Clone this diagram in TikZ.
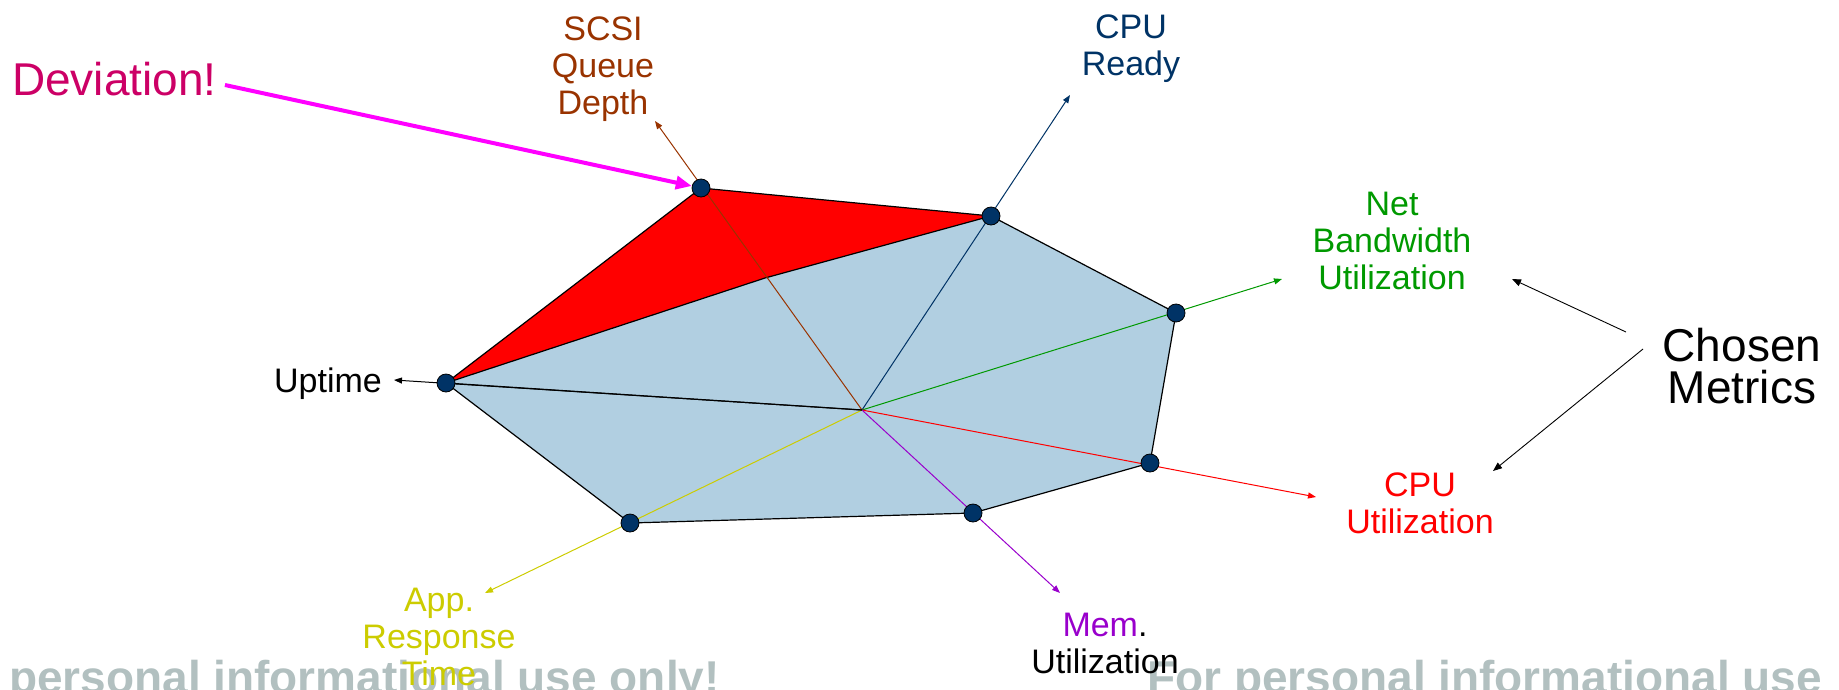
\documentclass[tikz,border=0pt]{standalone}
\usepackage{fontspec}
\setmainfont{Liberation Sans}
\usetikzlibrary{arrows.meta}
\definecolor{polyblue}{RGB}{177,207,225}
\definecolor{dotblue}{RGB}{0,51,102}
\definecolor{scsibrown}{RGB}{153,51,0}
\definecolor{readyblue}{RGB}{0,51,102}
\definecolor{netgreen}{RGB}{0,153,0}
\definecolor{memviolet}{RGB}{153,0,204}
\definecolor{appyellow}{RGB}{204,204,0}
\definecolor{devpink}{RGB}{204,0,102}
\definecolor{devmagenta}{RGB}{255,0,255}
\definecolor{wmgray}{RGB}{178,192,192}
\begin{document}
\begin{tikzpicture}[x=1pt,y=-1pt,
  axisline/.style={line width=1pt,-{Triangle[length=8pt,width=6pt]}},
  polyedge/.style={draw=black,line width=1.2pt,line join=round},
  vertex/.style={circle,draw=black,line width=0.8pt,fill=dotblue,minimum size=18pt,inner sep=0pt},
  lbl/.style={font=\fontsize{34}{37}\selectfont,align=center,inner sep=0pt},
  bigtext/.style={font=\fontsize{46}{42}\selectfont,align=center,inner sep=0pt},
  wmark/.style={font=\bfseries\fontsize{46}{46}\selectfont,text=wmgray,inner sep=0pt},
  pointer/.style={line width=0.9pt,-{Triangle[length=9pt,width=7pt]}},
  devarrow/.style={draw=devmagenta,fill=devmagenta,line width=4pt,-{Triangle[length=16pt,width=13pt]}}
]
\useasboundingbox (0,0) rectangle (1839,689);
\clip (0,0) rectangle (1839,689);

% background notice
\node[wmark,anchor=base west] (wmL) at (9,693) {personal informational use only!};
\node[wmark,anchor=base west] (wmR) at (1147,693) {For personal informational use};

% centre of the chart and metric values
\coordinate (C) at (862,410);
\coordinate (pU) at (446,383);
\coordinate (pS) at (701,188);
\coordinate (pSn) at (765,278);
\coordinate (pR) at (991,216);
\coordinate (pN) at (1176,313);
\coordinate (pCu) at (1150,463);
\coordinate (pM) at (973,513);
\coordinate (pA) at (630,523);

% axis end points
\coordinate (tU) at (394,380);
\coordinate (tS) at (655,121);
\coordinate (tR) at (1070,95);
\coordinate (tN) at (1282,279);
\coordinate (tCu) at (1316,497);
\coordinate (tM) at (1060,593);
\coordinate (tA) at (485,593);

% baseline profile and the deviating part
\fill[polyblue] (pU) -- (pSn) -- (pR) -- (pN) -- (pCu) -- (pM) -- (pA) -- cycle;
\fill[red] (pU) -- (pS) -- (pR) -- (pSn) -- cycle;
\draw[polyedge] (pU) -- (pS) -- (pR) -- (pN) -- (pCu) -- (pM) -- (pA) -- cycle;
\draw[polyedge] (pU) -- (pSn) -- (pR);

% axes
\draw[axisline,scsibrown] (C) -- (tS);
\draw[axisline,readyblue] (C) -- (tR);
\draw[axisline,netgreen] (C) -- (tN);
\draw[axisline,red] (C) -- (tCu);
\draw[axisline,memviolet] (C) -- (tM);
\draw[axisline,appyellow] (C) -- (tA);
\draw[axisline,black] (C) -- (tU);
\draw[polyedge] (C) -- (pU);

% value markers
\node[vertex] (vU) at (pU) {};
\node[vertex] (vS) at (pS) {};
\node[vertex] (vR) at (pR) {};
\node[vertex] (vN) at (pN) {};
\node[vertex] (vCu) at (pCu) {};
\node[vertex] (vM) at (pM) {};
\node[vertex] (vA) at (pA) {};

% metric names
\node[lbl,anchor=base east] (lUp) at (382,392) {Uptime};
\node[lbl,anchor=north,text=scsibrown] (lScsi) at (603,17) {SCSI\\Queue\\Depth};
\node[lbl,anchor=north,text=readyblue] (lReady) at (1131,15) {CPU\\Ready};
\node[lbl,anchor=north,text=netgreen] (lNet) at (1392,192) {Net\\Bandwidth\\Utilization};
\node[lbl,anchor=north,text=red] (lCpu) at (1420,473) {CPU\\Utilization};
\node[lbl,anchor=north] (lMem) at (1105,613) {{\color{memviolet}Mem}.\\Utilization};
\node[lbl,anchor=north,text=appyellow] (lApp) at (439,588) {App.\\Response\\Time};

% call-outs
\node[bigtext,anchor=base west,text=devpink] (dev) at (12,95) {Deviation!};
\draw[devarrow] ([xshift=8pt,yshift=10pt]dev.base east) -- (vS);

\node[bigtext,anchor=north] (chosen) at (1742,328) {Chosen\\Metrics};
\coordinate (chA) at (1626,332);
\coordinate (chB) at (1643,349);
\coordinate (chAt) at (1512,279);
\coordinate (chBt) at (1493,471);
\draw[pointer] (chA) -- (chAt);
\draw[pointer] (chB) -- (chBt);
\end{tikzpicture}
\end{document}
